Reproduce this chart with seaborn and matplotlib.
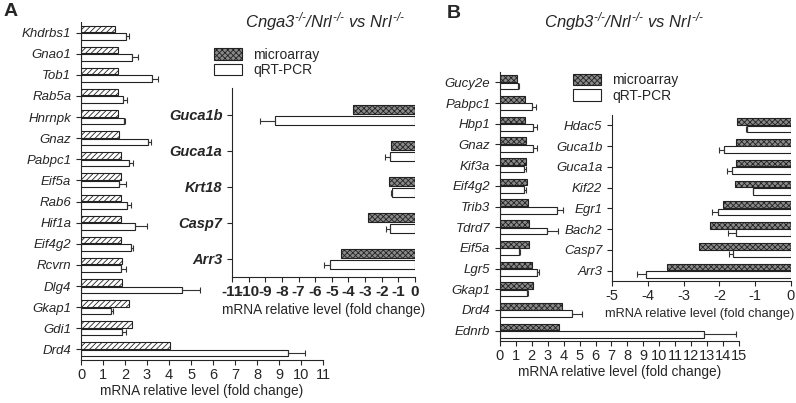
"""
Microarray vs qRT-PCR fold changes, two knockout comparisons
with insets for the down-regulated genes.
"""
import pandas as pd
import matplotlib.pyplot as plt
from matplotlib.patches import Patch
import seaborn as sns

# Panel A, up-regulated
a_genes = ["Khdrbs1", "Gnao1", "Tob1", "Rab5a", "Hnrnpk", "Gnaz", "Pabpc1", "Eif5a", "Rab6",
           "Hif1a", "Eif4g2", "Rcvrn", "Dlg4", "Gkap1", "Gdi1", "Drd4"]
a_micro = [1.56, 1.70, 1.70, 1.70, 1.70, 1.73, 1.82, 1.82, 1.82,
           1.82, 1.82, 1.88, 1.88, 2.19, 2.31, 4.04]
a_qpcr = [2.03, 2.33, 3.24, 1.90, 1.94, 3.06, 2.18, 1.73, 2.09,
          2.46, 2.25, 1.82, 4.60, 1.35, 1.87, 9.39]
a_sem = [0.17, 0.27, 0.26, 0.20, 0.06, 0.12, 0.18, 0.30, 0.18,
         0.54, 0.12, 0.22, 0.80, 0.11, 0.17, 0.81]

# Panel A inset, down-regulated
ai_genes = ["Guca1b", "Guca1a", "Krt18", "Casp7", "Arr3"]
ai_micro = [-3.75, -1.46, -1.56, -2.80, -4.45]
ai_qpcr = [-8.43, -1.50, -1.36, -1.50, -5.12]
ai_sem = [0.90, 0.30, 0.06, 0.24, 0.34]

# Panel B, up-regulated
b_genes = ["Gucy2e", "Pabpc1", "Hbp1", "Gnaz", "Kif3a", "Eif4g2", "Trib3", "Tdrd7", "Eif5a",
           "Lgr5", "Gkap1", "Drd4", "Ednrb"]
b_micro = [1.05, 1.59, 1.59, 1.63, 1.63, 1.67, 1.74, 1.80, 1.84, 1.99, 2.05, 3.87, 3.72]
b_qpcr = [1.11, 1.99, 2.09, 2.09, 1.49, 1.49, 3.56, 2.97, 1.19, 2.34, 1.67, 4.50, 12.82]
b_sem = [0.10, 0.29, 0.27, 0.21, 0.14, 0.14, 0.37, 0.69, 0.09, 0.13, 0.11, 0.67, 1.98]

# Panel B inset, down-regulated
bi_genes = ["Hdac5", "Guca1b", "Guca1a", "Kif22", "Egr1", "Bach2", "Casp7", "Arr3"]
bi_micro = [-1.50, -1.53, -1.53, -1.56, -1.91, -2.26, -2.57, -3.47]
bi_qpcr = [-1.23, -1.87, -1.64, -1.05, -2.03, -1.54, -1.61, -4.04]
bi_sem = [0.04, 0.13, 0.15, 0.02, 0.18, 0.21, 0.12, 0.26]

methods = ["microarray", "qRT-PCR"]
XLABEL = "mRNA relative level (fold change)"


def draw(ax, genes, micro, qpcr, sem, hatch, face, width, gap, lab_size, lab_weight):
    n = len(genes)
    df = pd.DataFrame({"gene": genes * 2,
                       "value": micro + qpcr,
                       "method": [methods[0]] * n + [methods[1]] * n})
    sns.barplot(data=df, y="gene", x="value", hue="method", hue_order=methods,
                order=genes, orient="h", palette={methods[0]: face, methods[1]: "white"},
                edgecolor="#222222", linewidth=0.8, width=width, gap=gap,
                errorbar=None, legend=False, ax=ax)
    for bar in ax.containers[0]:
        bar.set_hatch(hatch)
    # one-sided error bars on the qRT-PCR bars
    for bar, v, s in zip(ax.containers[1], qpcr, sem):
        yc = bar.get_y() + bar.get_height() / 2
        xerr = [[s], [0]] if v < 0 else [[0], [s]]
        ax.errorbar(v, yc, xerr=xerr, fmt="none", ecolor="#333333",
                    elinewidth=0.8, capsize=2, capthick=0.8)
    ax.set_ylabel("")
    ax.tick_params(axis="x", pad=2)
    for lbl in ax.get_yticklabels():
        lbl.set_style("italic")
        lbl.set_fontsize(lab_size)
        lbl.set_fontweight(lab_weight)
    sns.despine(ax=ax)


sns.set_style("ticks")
plt.rcParams["font.family"] = ["Liberation Sans", "DejaVu Sans"]
plt.rcParams["mathtext.fontset"] = "custom"
plt.rcParams["mathtext.it"] = "Liberation Sans:italic"
plt.rcParams["mathtext.rm"] = "Liberation Sans:italic"
plt.rcParams["mathtext.default"] = "it"
plt.rcParams["axes.unicode_minus"] = False
plt.rcParams["hatch.linewidth"] = 0.6

fig = plt.figure(figsize=(7.96, 4.03), dpi=100)

# ---- Panel A
ax_a = fig.add_axes([0.1018, 0.1067, 0.304, 0.8387])
draw(ax_a, a_genes, a_micro, a_qpcr, a_sem, "//////", "white", 0.7, 0.12, 9.5, "normal")
ax_a.set_xlim(0, 11)
ax_a.set_xticks(range(0, 12))
ax_a.set_ylim(len(a_genes) - 0.5, -0.5)
ax_a.set_xlabel(XLABEL, fontsize=9.8, labelpad=2)
ax_a.tick_params(axis="x", labelsize=10.5)

ax_ai = fig.add_axes([0.2915, 0.3127, 0.2299, 0.469])
draw(ax_ai, ai_genes, ai_micro, ai_qpcr, ai_sem, "xxxxxx", "#8a8a8a", 0.62, 0.22, 10.5, "bold")
ax_ai.set_xlim(-11, 0)
ax_ai.set_xticks(range(-11, 1))
ax_ai.set_ylim(len(ai_genes) - 0.5, -0.75)
ax_ai.set_xlabel(XLABEL, fontsize=9.8, labelpad=3)
ax_ai.tick_params(axis="x", labelsize=11)
for lbl in ax_ai.get_xticklabels():
    lbl.set_fontweight("bold")

# ---- Panel B
ax_b = fig.add_axes([0.628, 0.1538, 0.3003, 0.6675])
draw(ax_b, b_genes, b_micro, b_qpcr, b_sem, "xxxxxx", "#8a8a8a", 0.72, 0.1, 9.5, "normal")
ax_b.set_xlim(0, 15)
ax_b.set_xticks(range(0, 16))
ax_b.set_ylim(len(b_genes) - 0.5, -0.5)
ax_b.set_xlabel(XLABEL, fontsize=9.8, labelpad=2)
ax_b.tick_params(axis="x", labelsize=10.5)

ax_bi = fig.add_axes([0.7688, 0.3027, 0.2249, 0.412])
draw(ax_bi, bi_genes, bi_micro, bi_qpcr, bi_sem, "xxxxxx", "#8a8a8a", 0.72, 0.1, 9.5, "normal")
ax_bi.set_xlim(-5, 0)
ax_bi.set_xticks(range(-5, 1))
ax_bi.set_ylim(len(bi_genes) - 0.5, -0.5)
ax_bi.set_xlabel(XLABEL, fontsize=9.2)
ax_bi.xaxis.set_label_coords(0.49, -0.16)
ax_bi.tick_params(axis="x", labelsize=10.5)

# legends
handles = [Patch(facecolor="#8a8a8a", edgecolor="#222222", hatch="xxxxxx", linewidth=0.8),
           Patch(facecolor="white", edgecolor="#222222", linewidth=0.8)]
for anchor in [(0.262, 0.895), (0.713, 0.832)]:
    fig.legend(handles, methods, loc="upper left", bbox_to_anchor=anchor, frameon=False,
               fontsize=10, handlelength=2.0, handleheight=0.9, labelspacing=0.1,
               handletextpad=0.8, borderaxespad=0)

# titles and panel letters (\text keeps plain hyphens in the superscripts)
sup = r"^{\text{-/-}}"
fig.text(0.308, 1 - 22 / 403, rf"$Cnga3{sup}/Nrl{sup}\ vs\ Nrl{sup}$", fontsize=12, va="center")
fig.text(0.684, 1 - 22 / 403, rf"$Cngb3{sup}/Nrl{sup}\ vs\ Nrl{sup}$", fontsize=12, va="center")
fig.text(0.005, 1 - 11 / 403, "A", fontsize=14, fontweight="bold", va="center")
fig.text(0.561, 1 - 13 / 403, "B", fontsize=14, fontweight="bold", va="center")

fig.savefig("out.png", dpi=100)
